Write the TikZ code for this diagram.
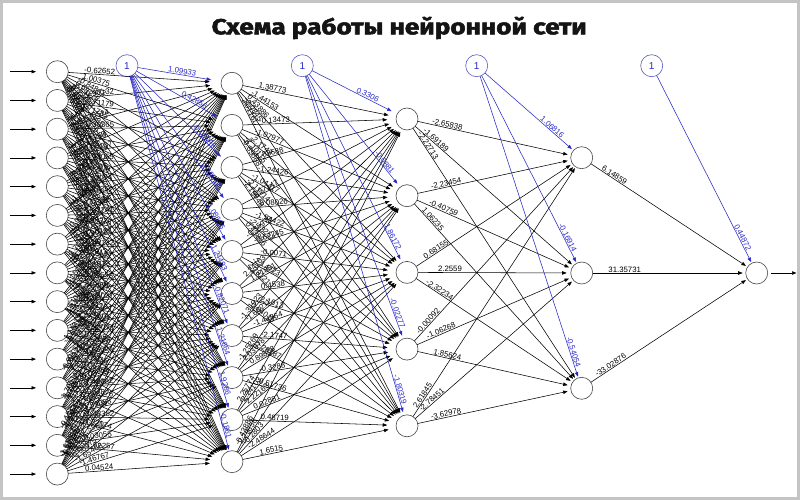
\documentclass[tikz,border=0pt]{standalone}
\usepackage{fontspec}
\usepackage{graphicx}
\setmainfont{Liberation Sans}
\newfontfamily\titlefont[FakeBold=2.2]{Fira Sans}
\usetikzlibrary{calc,arrows.meta}
\definecolor{biasblue}{RGB}{40,40,200}
\definecolor{biascirc}{RGB}{90,90,195}
\definecolor{nodeline}{RGB}{70,70,70}
\definecolor{framegray}{RGB}{196,196,196}
\definecolor{titlecol}{RGB}{20,20,20}
\pgfkeys{/pgf/number format/.cd,fixed,precision=5,assume math mode=true}

\newcommand\setlab[3]{\expandafter\def\csname nnlab@#1@#2\endcsname{#3}}
\newcommand\thelab[3]{\ifcsname nnlab@#1@#2\endcsname\csname nnlab@#1@#2\endcsname\else\pgfmathsetmacro\nnw{#3}\pgfmathprintnumber{\nnw}\fi}

\setlab{in1}{ha1}{-0.62652}
\setlab{in15}{ha10}{0.04524}
\setlab{ha1}{hb1}{1.38773}
\setlab{ha1}{hb2}{-1.44153}
\setlab{ha2}{hb1}{-0.13473}
\setlab{ha3}{hb2}{-1.24426}
\setlab{ha4}{hb3}{-1.54422}
\setlab{ha5}{hb3}{-0.0071}
\setlab{ha6}{hb3}{0.4538}
\setlab{ha7}{hb3}{-1.44864}
\setlab{ha8}{hb4}{-0.3288}
\setlab{ha9}{hb4}{0.02881}
\setlab{ha9}{hb5}{0.48719}
\setlab{ha10}{hb4}{-2.48644}
\setlab{ha10}{hb5}{1.6515}

% regular weighted link: src, tgt, label, end distance a, a-b
\newcommand\wlink[5]{%
  \draw[edgeline] let \p1=($(#2.center)-(#1.center)$), \n1={veclen(\x1,\y1)}, \n4={#4pt-#5pt*abs(\y1)/\n1} in ($(#1.center)!11pt!(#2.center)$) -- ($(#2.center)!\n4!(#1.center)$);
  \path let \p1=($(#2.center)-(#1.center)$), \n1={veclen(\x1,\y1)}, \n2={atan2(\y1,\x1)}, \n3={43pt-11pt*abs(\y1)/\n1} in ($(#1.center)!\n3!(#2.center)$) node[wlabel, rotate=\n2] {#3};
}
% bias link
\newcommand\blink[5]{%
  \draw[biasline] let \p1=($(#2.center)-(#1.center)$), \n1={veclen(\x1,\y1)}, \n4={#4pt-#5pt*abs(\y1)/\n1} in ($(#1.center)!11pt!(#2.center)$) -- ($(#2.center)!\n4!(#1.center)$);
  \path let \p1=($(#2.center)-(#1.center)$), \n1={veclen(\x1,\y1)}, \n2={atan2(\y1,\x1)}, \n3={54pt-18pt*abs(\y1)/\n1} in ($(#2.center)!\n3!(#1.center)$) node[blabel, rotate=\n2] {#3};
}

\tikzset{
  neuron/.style={circle, draw=nodeline, line width=0.6pt, minimum size=22pt, inner sep=0pt},
  biasnode/.style={circle, draw=biascirc, line width=0.6pt, minimum size=22pt, inner sep=0pt, text=biasblue, font=\fontsize{10}{10}\selectfont},
  edgeline/.style={draw=black, line width=0.55pt, -{Triangle[length=4.5pt,width=3.4pt]}},
  biasline/.style={draw=biasblue, line width=0.55pt, -{Triangle[length=4.5pt,width=3.4pt]}},
  wlabel/.style={anchor=south, inner sep=0.6pt, font=\fontsize{7.8}{8}\selectfont, text=black},
  blabel/.style={wlabel, text=biasblue},
}

\begin{document}
\begin{tikzpicture}[x=1pt,y=-1pt]
\useasboundingbox (0,0) rectangle (800,500);
\fill[framegray] (0,0) rectangle (800,500);
\fill[white] (3,3) rectangle (796.5,497);

\node[anchor=base, inner sep=0pt, text=titlecol] (title) at (399.2,34.3)
  {\resizebox{375pt}{17.5pt}{\titlefont\bfseries Схема работы нейронной сети}};

% nodes
\foreach \i in {1,...,15}{
  \node[neuron] (in\i) at (57.3,{71.7+28.74*(\i-1)}) {};
  \coordinate (src\i) at (10,{71.7+28.74*(\i-1)});
}
\foreach \i in {1,...,10}{\node[neuron] (ha\i) at (232,{83.3+42.04*(\i-1)}) {};}
\foreach \i in {1,...,5}{\node[neuron] (hb\i) at (407,{119+76.7*(\i-1)}) {};}
\foreach \i in {1,...,3}{\node[neuron] (hc\i) at (581.7,{157.7+115.3*(\i-1)}) {};}
\node[neuron] (out) at (756.7,273) {};
\coordinate (oend) at (796.5,273);

\node[biasnode] (b1) at (127,65.7) {1};
\node[biasnode] (b2) at (302.3,65.7) {1};
\node[biasnode] (b3) at (476.7,65.7) {1};
\node[biasnode] (b4) at (651.7,65.7) {1};

% input arrows
\foreach \i in {1,...,15}{\draw[edgeline, shorten >=10pt] (src\i) -- (in\i.west);}
\draw[edgeline, shorten <=3pt] (out.east) -- (oend);

% input -> hidden 1
\foreach \i in {1,...,15}{
  \foreach \j in {1,...,10}{
    \wlink{in\i}{ha\j}{\thelab{in\i}{ha\j}{1.75*sin(61*\i*\j+47*\i+113*\j)}}{23}{11}
  }
}
% hidden 1 -> hidden 2
\foreach \i in {1,...,10}{
  \foreach \j in {1,...,5}{
    \wlink{ha\i}{hb\j}{\thelab{ha\i}{hb\j}{2.3*sin(83*\i*\j+29*\i+151*\j)}}{20}{6}
  }
}
% hidden 2 -> hidden 3
\wlink{hb1}{hc1}{-2.65838}{15}{3}
\wlink{hb1}{hc2}{-1.69189}{15}{3}
\wlink{hb1}{hc3}{-2.22713}{15}{3}
\wlink{hb2}{hc1}{-2.23454}{15}{3}
\wlink{hb2}{hc2}{-0.40759}{15}{3}
\wlink{hb2}{hc3}{1.06235}{15}{3}
\wlink{hb3}{hc1}{0.68155}{15}{3}
\wlink{hb3}{hc2}{2.2559}{15}{3}
\wlink{hb3}{hc3}{-2.32234}{15}{3}
\wlink{hb4}{hc1}{-0.00092}{15}{3}
\wlink{hb4}{hc2}{-1.06268}{15}{3}
\wlink{hb4}{hc3}{1.85624}{15}{3}
\wlink{hb5}{hc1}{2.61845}{15}{3}
\wlink{hb5}{hc2}{-2.78451}{15}{3}
\wlink{hb5}{hc3}{-3.62978}{15}{3}
% hidden 3 -> output
\wlink{hc1}{out}{6.14859}{14}{2}
\wlink{hc2}{out}{31.35731}{14}{2}
\wlink{hc3}{out}{-33.02876}{14}{2}

% bias links
\foreach \j/\w in {1/1.09933,2/0.42856,3/-0.08044,4/0.09012,5/1.08696,6/1.24493,7/-0.82071,8/1.21664,9/1.9286,10/-0.1861}{
  \blink{b1}{ha\j}{\w}{23}{11}
}
\foreach \j/\w in {1/0.3306,2/-0.0881,3/1.86172,4/-0.02277,5/-1.80319}{
  \blink{b2}{hb\j}{\w}{20}{6}
}
\foreach \j/\w in {1/1.06816,2/-0.16914,3/-0.54054}{
  \blink{b3}{hc\j}{\w}{15}{3}
}
\blink{b4}{out}{0.44872}{14}{2}
\end{tikzpicture}
\end{document}
